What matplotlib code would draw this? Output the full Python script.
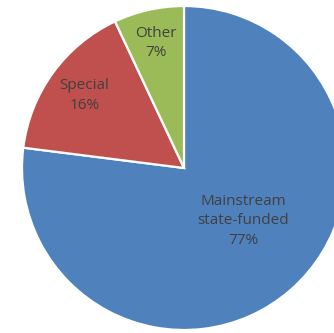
import numpy as np
import matplotlib
matplotlib.use("Agg")
from matplotlib import pyplot as plt

# school type shares (percent)
labels = ['Mainstream\nstate-funded', 'Special', 'Other']
shares = [77, 16, 7]
colors = ['#4F81BD', '#C0504D', '#9BBB59']
label_dist = [0.49, 0.76, 0.79]   # label radius as fraction of pie radius
label_turn = [7, 0, 0]            # small angular nudge (deg) for each label

fig = plt.figure(figsize=(3.34, 3.33), dpi=100)
ax = fig.add_axes([0, 0, 1, 1])

wedges, _ = ax.pie(shares, colors=colors, startangle=90, counterclock=False,
                   radius=1.0, center=(0, 0),
                   wedgeprops=dict(edgecolor='white', linewidth=1.6))

for w, lab, val, d, t in zip(wedges, labels, shares, label_dist, label_turn):
    mid = np.deg2rad((w.theta1 + w.theta2) / 2.0 + t)
    ax.text(d * np.cos(mid), d * np.sin(mid), '{}\n{}%'.format(lab, val),
            ha='center', va='center', color='#404040', fontsize=11,
            family=['Open Sans', 'DejaVu Sans'], linespacing=1.4)

# pie centre sits at (184, 168) px with a 162 px radius; the rest is cropped
r_px = 162.0
ax.set_xlim(-184 / r_px, 150 / r_px)
ax.set_ylim(-165 / r_px, 168 / r_px)
ax.set_aspect('auto')
ax.axis('off')

fig.savefig('out.png', dpi=100)
